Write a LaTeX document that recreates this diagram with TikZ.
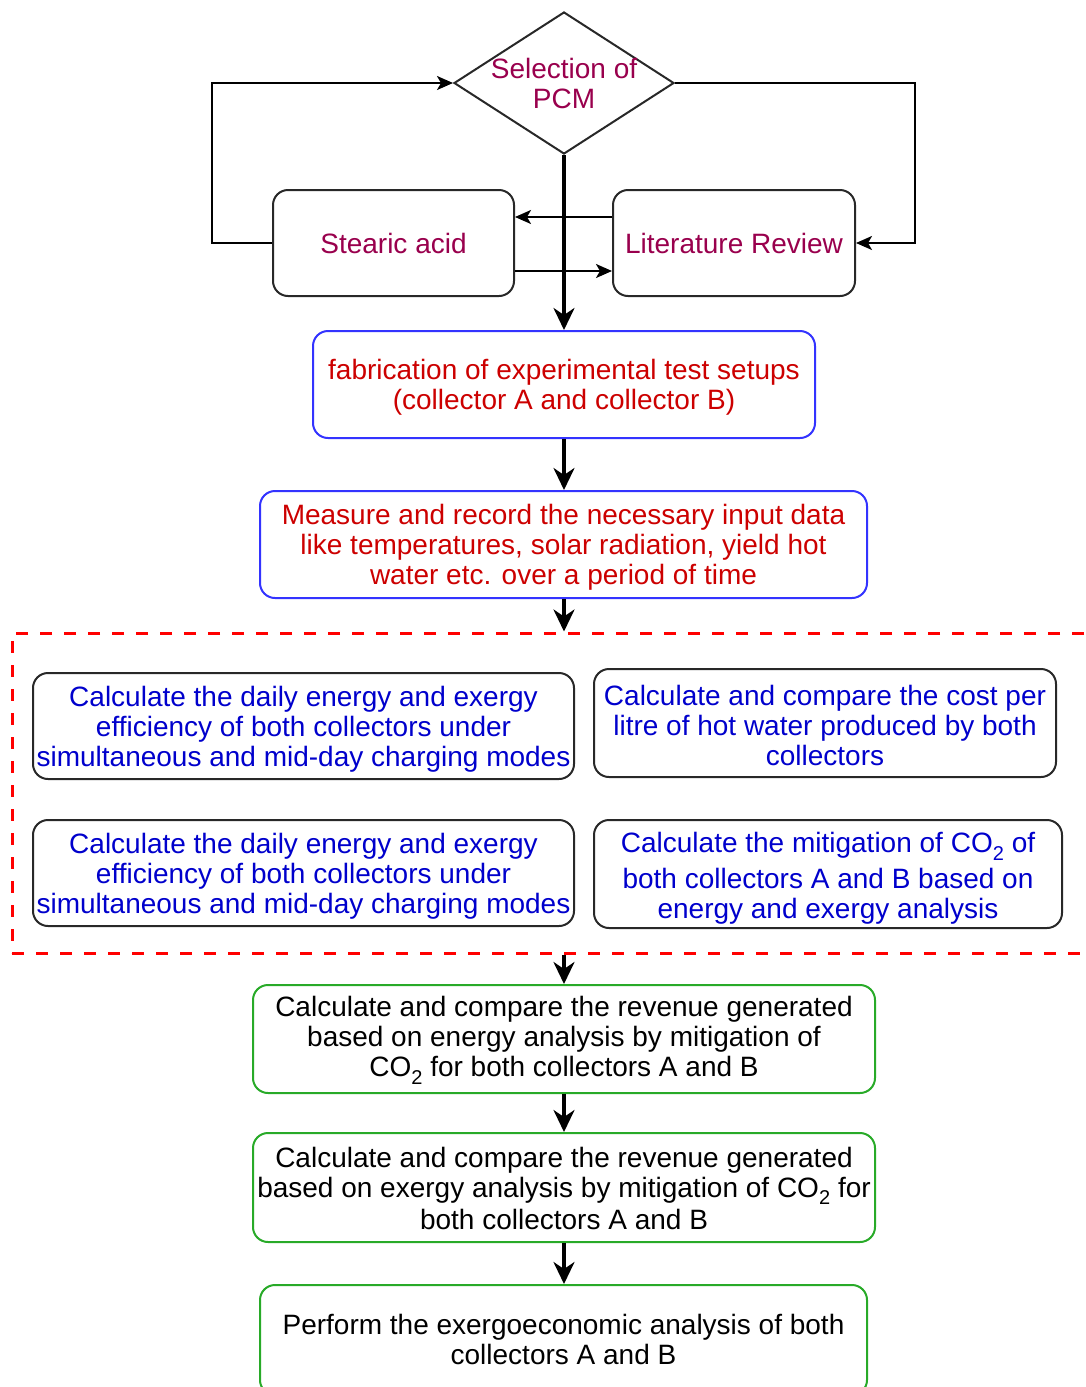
\documentclass[tikz,border=0pt]{standalone}
\usepackage{fontspec}
\setmainfont{Liberation Sans}
\usetikzlibrary{shapes.geometric,arrows.meta}
\definecolor{bborder}{RGB}{51,51,255}
\definecolor{redtxt}{RGB}{204,0,0}
\definecolor{bluetxt}{RGB}{0,0,204}
\definecolor{magtxt}{RGB}{153,0,77}
\definecolor{gborder}{RGB}{40,170,40}
\definecolor{kborder}{RGB}{40,40,40}
\newcommand\subtwo{\raisebox{-0.28em}{\fontsize{20}{20}\selectfont 2}}
\tikzset{
  box/.style={rectangle, rounded corners=15pt, draw=kborder, line width=2pt, inner sep=0pt},
  lbl/.style={align=center, inner sep=0pt, font=\fontsize{28}{30}\selectfont},
  bluebox/.style={box, draw=bborder},
  calcbox/.style={box, draw=kborder},
  greenbox/.style={box, draw=gborder},
  topbox/.style={box, draw=kborder, text=magtxt, align=center, font=\fontsize{28}{30}\selectfont, minimum height=106pt},
  arr/.style={-{Stealth[length=16pt,width=14pt,inset=4pt]}, line width=2pt},
  thickarr/.style={-{Stealth[length=22pt,width=21pt,inset=7pt]}, line width=3.3pt},
}
\begin{document}
\begin{tikzpicture}[x=1pt,y=-1pt]
\useasboundingbox (0,0) rectangle (1086,1387);
\clip (0,0) rectangle (1086,1387);

% decision
\node[diamond, draw=kborder, line width=2pt, aspect=1.549, minimum width=220pt, minimum height=142pt, inner sep=0pt] (sel) at (564,83) {};
\node[lbl, text=magtxt] (seltxt) at (564,83.5) {Selection of\\PCM};

\node[topbox, minimum width=241pt] (stearic) at (393.5,243) {Stearic acid};
\node[topbox, minimum width=242pt] (lit) at (734,243) {Literature Review};

\node[bluebox, minimum width=502pt, minimum height=107pt] (fab) at (564,384.5) {};
\node[lbl, text=redtxt] (fabtxt) at (564,387.5)
  {fabrication of experimental test setups\\(collector A and collector B)};
\node[bluebox, minimum width=607pt, minimum height=107pt] (meas) at (563.5,544.5) {};
\node[lbl, text=redtxt] (meastxt) at (563.5,547.5)
  {Measure and record the necessary input data\\like temperatures, solar radiation, yield hot\\water etc. over a period of time};

% dashed group
\node[draw=red, line width=3pt, dash pattern=on 12pt off 12pt, minimum width=1084pt, minimum height=320pt, inner sep=0pt] (grp) at (554,793) {};

\node[calcbox, minimum width=541pt, minimum height=106pt] (a1) at (303.5,726) {};
\node[lbl, text=bluetxt] (a1txt) at (303.5,729)
  {Calculate the daily energy and exergy\\efficiency of both collectors under\\simultaneous and mid-day charging modes};
\node[calcbox, minimum width=462pt, minimum height=108pt] (b1) at (825,723) {};
\node[lbl, text=bluetxt] (b1txt) at (825,725)
  {Calculate and compare the cost per\\litre of hot water produced by both\\collectors};
\node[calcbox, minimum width=541pt, minimum height=106pt] (a2) at (303.5,873) {};
\node[lbl, text=bluetxt] (a2txt) at (303.5,876)
  {Calculate the daily energy and exergy\\efficiency of both collectors under\\simultaneous and mid-day charging modes};
\node[calcbox, minimum width=468pt, minimum height=108pt] (b2) at (828,874) {};
\node[lbl, text=bluetxt] (b2txt) at (828,878)
  {Calculate the mitigation of CO\subtwo{} of\\[6pt]both collectors A and B based on\\energy and exergy analysis};

\node[greenbox, minimum width=622pt, minimum height=108pt] (g1) at (564,1039) {};
\node[lbl] (g1txt) at (564,1040)
  {Calculate and compare the revenue generated\\based on energy analysis by mitigation of\\CO\subtwo{} for both collectors A and B};
\node[greenbox, minimum width=622pt, minimum height=109pt] (g2) at (564,1187.5) {};
\node[lbl] (g2txt) at (564,1188)
  {Calculate and compare the revenue generated\\based on exergy analysis by mitigation of CO\subtwo{} for\\[2pt]both collectors A and B};
\node[greenbox, minimum width=607pt, minimum height=110pt] (g3) at (563.5,1340) {};
\node[lbl] (g3txt) at (563.5,1339)
  {Perform the exergoeconomic analysis of both\\collectors A and B};

% connectors
\draw[arr] (stearic.west) -- ++(-60,0) |- (sel.west);
\draw[arr] (sel.east) -- ++(240,0) |- (lit.east);
\draw[arr] ([yshift=26pt]lit.west) -- ([yshift=26pt]stearic.east);
\draw[arr] ([yshift=-28pt]stearic.east) -- ([yshift=-28pt]lit.west);
\draw[thickarr] (sel.south) -- (sel.south |- fab.north);
\draw[thickarr] (fab.south) -- (fab.south |- meas.north);
\draw[thickarr] (fab.south |- meas.south) -- (fab.south |- grp.north);
\draw[thickarr] (g1.north |- grp.south) -- (g1.north);
\draw[thickarr] (g1.south) -- (g2.north);
\draw[thickarr] (g2.south) -- (g2.south |- g3.north);
\end{tikzpicture}
\end{document}
